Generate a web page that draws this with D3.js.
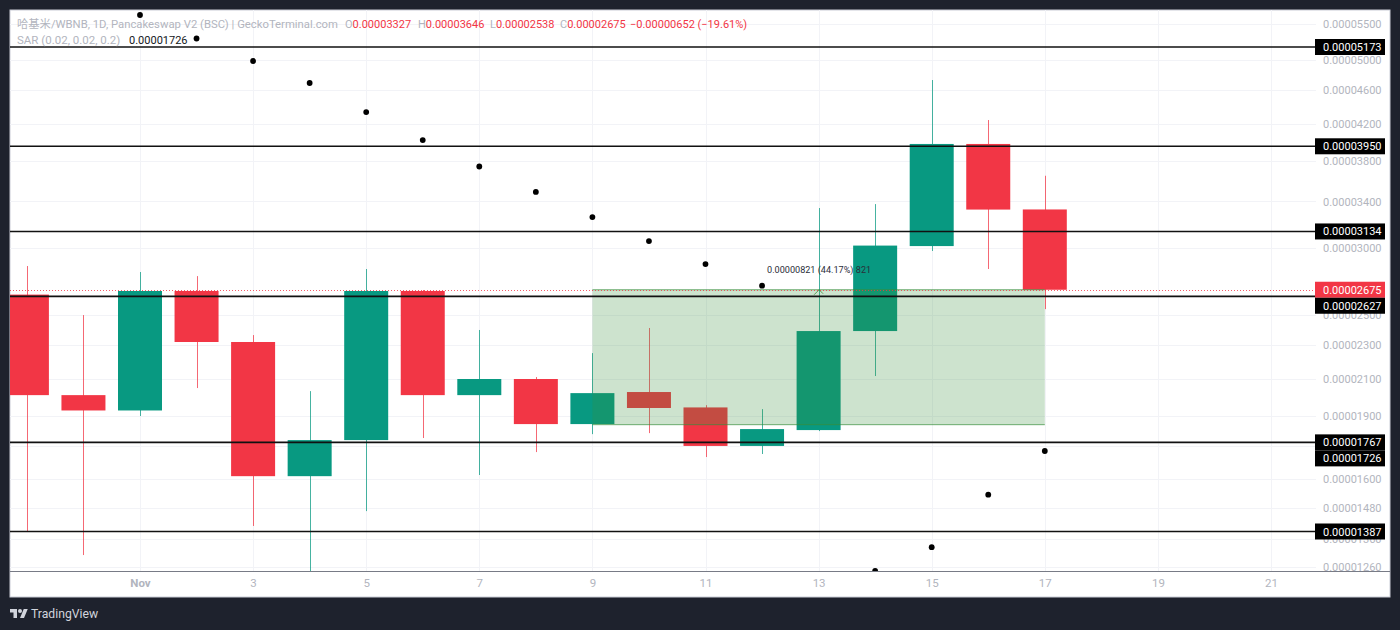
<!DOCTYPE html>
<html>
<head>
<meta charset="utf-8">
<script src="https://cdn.jsdelivr.net/npm/d3@7"></script>
<style>
  html, body { margin: 0; padding: 0; background: #1e222d; }
  svg { display: block; }
  text { font-family: "Roboto", "Noto Sans CJK SC", sans-serif; }
</style>
</head>
<body>
<svg id="svg1" width="1400" height="630"></svg>
<script>
// prices are in units of 0.00000001
const days   = [-1, 0, 1, 2, 3, 4, 5, 6, 7, 8, 9, 10, 11, 12, 13, 14, 15, 16, 17];
const opens  = [2640, 2009, 1927, 2666, 2321, 1612, 1778, 2666, 2009, 2099, 1857, 2026, 1943, 1750, 1827, 2391, 3012, 3975, 3327];
const highs  = [2853, 2497, 2807, 2776, 2365, 2031, 2830, 2673, 2398, 2110, 2252, 2411, 1955, 1934, 3340, 3376, 4729, 4242, 3646];
const lows   = [1388, 1301, 1898, 2048, 1408, 1230, 1466, 1788, 1617, 1721, 1807, 1812, 1698, 1712, 1822, 2116, 2972, 2830, 2538];
const closes = [2009, 1927, 2666, 2321, 1612, 1778, 2666, 2009, 2099, 1857, 2020, 1940, 1750, 1832, 2391, 3016, 3975, 3326, 2675];

const sarDays   = [1, 2, 3, 4, 5, 6, 7, 8, 9, 10, 11, 12, 14, 15, 16, 17];
const sarValues = [5643, 5294, 4980, 4691, 4335, 4017, 3739, 3489, 3259, 3053, 2868, 2705, 1246, 1329, 1533, 1726];

const levels = [5173, 3950, 3134, 2627, 1767, 1387];
const lastPrice = 2675;
const sarLast = 1726;
const priceTicks = [5500, 5000, 4600, 4200, 3800, 3400, 3000, 2500, 2300, 2100, 1900, 1600, 1480, 1360, 1260];
const gridOnlyTicks = [1750]; // its label sits fully under a price tag
const dayTicks = [1, 3, 5, 7, 9, 11, 13, 15, 17, 19, 21];

const positionFrom = 9, positionTo = 17;
const positionLow = 1854, positionHigh = 2675;
const positionLabel = "0.00000821 (44.17%) 821";

const titleText = "哈基米/WBNB, 1D, Pancakeswap V2 (BSC) | GeckoTerminal.com";
const sarText = "SAR (0.02, 0.02, 0.2)";
const ohlcKeys = ["O", "H", "L", "C"];
const ohlcValues = ["0.00003327", "0.00003646", "0.00002538", "0.00002675"];
const changeText = "−0.00000652 (−19.61%)";

const red = "#f23645", green = "#089981";
const fmt = d => (d / 1e8).toFixed(8);

const chartLeft = 10, chartRight = 1390, chartTop = 10, chartBottom = 597, plotRight = 1316, plotBottom = 571;

var x = d3.scaleLinear().domain([1, 21]).range([140, 1271]);
var y = d3.scaleLog().domain([1387, 5173]).range([531.5, 47]);
const bodyW = 44;

var svg = d3.select("#svg1");

svg.append("rect").attr("x", chartLeft).attr("y", chartTop).attr("width", chartRight - chartLeft).attr("height", chartBottom - chartTop)
    .attr("fill", "#fff").attr("stroke", "#c9ccd6").attr("stroke-width", 1);

svg.append("defs").append("clipPath").attr("id", "plot").append("rect")
    .attr("x", chartLeft).attr("y", chartTop).attr("width", plotRight - chartLeft).attr("height", plotBottom - chartTop);

// grid
var grid = svg.append("g").attr("stroke", "#f2f3f7").attr("stroke-width", 1);
grid.selectAll(".h").data(priceTicks.concat(gridOnlyTicks)).enter().append("line")
    .attr("x1", chartLeft).attr("x2", plotRight)
    .attr("y1", d => Math.round(y(d)) + 0.5).attr("y2", d => Math.round(y(d)) + 0.5);
grid.selectAll(".v").data(dayTicks).enter().append("line")
    .attr("x1", d => Math.round(x(d)) + 0.5).attr("x2", d => Math.round(x(d)) + 0.5)
    .attr("y1", chartTop).attr("y2", plotBottom);

// candles
var plot = svg.append("g").attr("clip-path", "url(#plot)");
var candles = plot.selectAll(".candle").data(days).enter().append("g");
candles.append("line")
    .attr("x1", d => Math.round(x(d)) + 0.5).attr("x2", d => Math.round(x(d)) + 0.5)
    .attr("y1", (d, i) => y(highs[i])).attr("y2", (d, i) => y(lows[i]))
    .attr("stroke", (d, i) => closes[i] < opens[i] ? red : green)
    .attr("stroke-opacity", 0.75);
candles.append("rect")
    .attr("x", d => x(d) - bodyW / 2).attr("width", bodyW)
    .attr("y", (d, i) => y(Math.max(opens[i], closes[i])))
    .attr("height", (d, i) => Math.abs(y(opens[i]) - y(closes[i])))
    .attr("fill", (d, i) => closes[i] < opens[i] ? red : green);

// long position box
plot.append("rect")
    .attr("x", x(positionFrom)).attr("width", x(positionTo) - x(positionFrom))
    .attr("y", y(positionHigh)).attr("height", y(positionLow) - y(positionHigh))
    .attr("fill", "#388e3c").attr("fill-opacity", 0.25);
plot.append("line")
    .attr("x1", x(positionFrom)).attr("x2", x(positionTo))
    .attr("y1", y(positionLow)).attr("y2", y(positionLow))
    .attr("stroke", "#388e3c").attr("stroke-opacity", 0.7);
plot.append("line")
    .attr("x1", x(positionFrom)).attr("x2", x(positionTo))
    .attr("y1", y(positionHigh)).attr("y2", y(positionHigh))
    .attr("stroke", "#388e3c").attr("stroke-opacity", 0.7);
var mid = (x(positionFrom) + x(positionTo)) / 2 + 0.5;
plot.append("path")
    .attr("d", d3.line()([[mid - 5, y(positionHigh) + 5], [mid, y(positionHigh)], [mid + 4, y(positionHigh) + 4]]))
    .attr("fill", "none").attr("stroke", "#388e3c").attr("stroke-opacity", 0.8);
svg.append("text")
    .attr("x", mid).attr("y", y(positionHigh) - 16.5).attr("text-anchor", "middle")
    .attr("font-size", 9.1).attr("fill", "#2a2e39").text(positionLabel);

// last price dotted line
svg.append("line")
    .attr("x1", chartLeft).attr("x2", plotRight)
    .attr("y1", Math.round(y(lastPrice)) + 0.5).attr("y2", Math.round(y(lastPrice)) + 0.5)
    .attr("stroke", red).attr("stroke-width", 1).attr("stroke-dasharray", "1 2").attr("stroke-opacity", 0.8);

// horizontal levels
svg.selectAll(".level").data(levels).enter().append("line")
    .attr("x1", chartLeft).attr("x2", plotRight)
    .attr("y1", d => y(d)).attr("y2", d => y(d))
    .attr("stroke", "#111").attr("stroke-width", 1.6);

// SAR
plot.selectAll(".sar").data(sarDays).enter().append("circle")
    .attr("cx", d => x(d))
    .attr("cy", (d, i) => y(sarValues[i]))
    .attr("r", 2.9).attr("fill", "#000");

// axes
var yAxis = svg.append("g").attr("transform", "translate(1323,0)")
    .call(d3.axisRight(y).tickValues(priceTicks).tickFormat(fmt).tickSize(0).tickPadding(0));
yAxis.select(".domain").remove();
yAxis.selectAll("text").attr("fill", "#b2b5be").attr("font-size", 11).attr("font-family", "Roboto");

var xAxis = svg.append("g").attr("transform", "translate(0," + plotBottom + ")")
    .call(d3.axisBottom(x).tickValues(dayTicks).tickFormat(d => d === 1 ? "Nov" : d).tickSize(0).tickPadding(8));
xAxis.select(".domain").remove();
xAxis.selectAll("text").attr("fill", "#b2b5be").attr("font-size", 11.5)
    .attr("font-weight", d => d === 1 ? 700 : 400).attr("font-family", "Roboto");

svg.append("line").attr("x1", chartLeft).attr("x2", chartRight).attr("y1", plotBottom + 0.5).attr("y2", plotBottom + 0.5)
    .attr("stroke", "#787b86").attr("stroke-width", 1);

// price tags, pushed down where they would collide
var tags = levels.map(v => ({ v: v, color: "#000" }))
    .concat([{ v: lastPrice, color: red }, { v: sarLast, color: "#000" }])
    .sort((a, b) => b.v - a.v);
var prev = -100;
tags.forEach(t => { t.cy = Math.max(y(t.v), prev + 16); prev = t.cy; });
var tag = svg.selectAll(".tag").data(tags).enter().append("g");
tag.append("rect").attr("x", 1315).attr("width", 70).attr("y", d => d.cy - 8).attr("height", 16).attr("fill", d => d.color);
tag.append("text").attr("x", 1323).attr("y", d => d.cy + 4).attr("font-size", 11).attr("font-family", "Roboto")
    .attr("fill", "#fff").text(d => fmt(d.v));

// legend text
svg.append("text").attr("x", 17).attr("y", 28).attr("font-size", 11.3).attr("fill", "#b2b5be").text(titleText);
var keyX = [345, 418, 490, 560];
ohlcKeys.forEach((k, i) => {
    var t = svg.append("text").attr("x", keyX[i]).attr("y", 28).attr("font-size", 11);
    t.append("tspan").attr("fill", "#b2b5be").text(k);
    t.append("tspan").attr("fill", red).text(ohlcValues[i]);
});
svg.append("text").attr("x", 630).attr("y", 28).attr("font-size", 11).attr("fill", red).text(changeText);
svg.append("text").attr("x", 17).attr("y", 44).attr("font-size", 11.5).attr("fill", "#b2b5be").text(sarText);
svg.append("text").attr("x", 129).attr("y", 44).attr("font-size", 11).attr("fill", "#131722").text(fmt(sarLast));

// TradingView mark
var logo = svg.append("g").attr("transform", "translate(10,607) scale(0.5)").attr("fill", "#d1d4dc");
logo.append("path").attr("d", "M14 22H7V11H0V4h14v18zM28 22h-8l7.5-18h8L28 22z");
logo.append("circle").attr("cx", 20).attr("cy", 8).attr("r", 4);
svg.append("text").attr("x", 31).attr("y", 618).attr("font-size", 12.2).attr("fill", "#d1d4dc").text("TradingView");
</script>
</body>
</html>
